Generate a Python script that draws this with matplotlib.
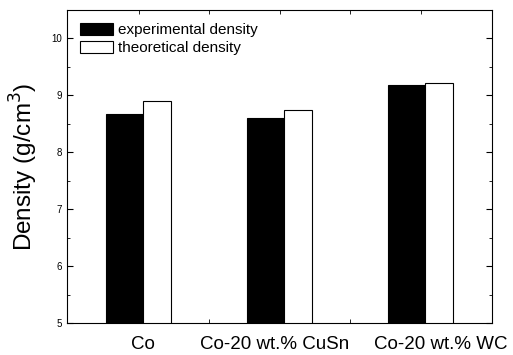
import matplotlib

matplotlib.use("Agg")
import matplotlib.pyplot as plt
import numpy as np
from matplotlib.ticker import MultipleLocator, FixedLocator

categories = ["Co", "Co-20 wt.% CuSn", "Co-20 wt.% WC"]
experimental = [8.68, 8.60, 9.18]
theoretical = [8.90, 8.74, 9.22]

plt.rcParams["font.family"] = ["Liberation Sans", "DejaVu Sans"]

fig = plt.figure(figsize=(5.13, 3.55), dpi=100)
ax = fig.add_axes([0.131, 0.090, 0.828, 0.882])

x = np.arange(len(categories))
w_exp = 0.265
w_theo = 0.195
# black bar sits left of the group centre, white bar right of it
ax.bar(x, experimental, -w_exp, align="edge", color="black", edgecolor="black",
       lw=0.8, label="experimental density")
ax.bar(x, theoretical, w_theo, align="edge", color="white", edgecolor="black",
       lw=0.8, label="theoretical density")

ax.set_ylim(5, 10.5)
ax.set_xlim(-0.54, 2.475)
ax.yaxis.set_major_locator(MultipleLocator(1))
ax.yaxis.set_minor_locator(MultipleLocator(0.5))

# tick labels are offset from the bars in the original figure
ax.set_xticks([0.0, 0.93, 2.11])
ax.set_xticklabels(categories, fontsize=13.5)
ax.xaxis.set_minor_locator(FixedLocator([-0.03, 0.47, 0.97, 1.47, 1.97]))
ax.tick_params(axis="x", which="major", length=0, pad=9)
ax.tick_params(axis="x", which="minor", direction="in", length=3, top=True)
ax.tick_params(axis="y", which="both", direction="in", left=True, right=True,
               labelsize=7)
ax.tick_params(axis="y", which="major", length=4)
ax.tick_params(axis="y", which="minor", length=2)
ax.set_ylabel("Density (g/cm$^3$)", fontsize=17.5, labelpad=8)

ax.legend(loc="upper left", fontsize=11, frameon=False, handlelength=2.15,
          handleheight=0.8, handletextpad=0.3, labelspacing=0.25,
          borderaxespad=0.45)

plt.savefig("out.png", dpi=100)
